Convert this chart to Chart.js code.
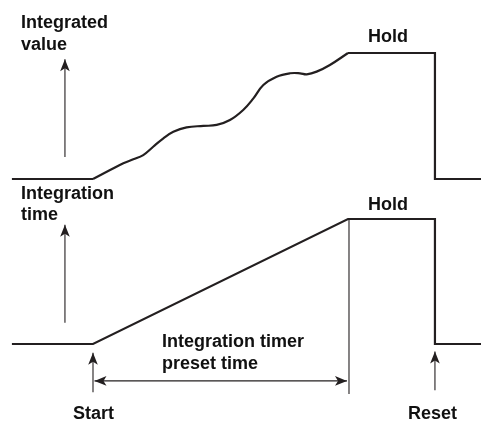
<!DOCTYPE html>
<html>
<head>
<meta charset="utf-8">
<script src="https://cdn.jsdelivr.net/npm/chart.js@4/dist/chart.umd.min.js"></script>
<style>
  html, body { margin: 0; padding: 0; background: #fff; }
  #wrap { width: 481px; height: 421px; }
</style>
</head>
<body>
<div id="wrap"><canvas id="c" width="481" height="421"></canvas></div>
<script>
// ---- Data (time units: Start = 0, end of preset time = 100) ----
const curveTime  = [0, 6.7, 11.9, 15.8, 19.7, 23.6, 27.6, 31.5, 36.7, 43.3, 48.5, 53.7, 58.9, 62.9, 66.8, 72.0, 77.3, 81.2, 83.8, 87.7, 92.9, 100];
const curveValue = [0, 7.1, 12.5, 15.6, 19.0, 25.6, 32.3, 37.5, 41.0, 42.1, 42.9, 46.8, 54.8, 64.0, 74.6, 81.2, 83.9, 83.9, 83.1, 85.2, 90.5, 100];
const idleTime   = [-31.8, 0];
const idleValue  = [0, 0];
const holdTime   = [100, 134.1, 134.1, 152.2];
const holdValue  = [100, 100, 0, 0];
const timerTime  = [-31.8, 0, 100, 134.1, 134.1, 152.2];
const timerValue = [0, 0, 100, 100, 0, 0];
const startTime = 0, presetEndTime = 100, resetTime = 134.1;
const labels = {
  valueAxis: ['Integrated', 'value'],
  timeAxis: ['Integration', 'time'],
  hold: 'Hold',
  preset: ['Integration timer', 'preset time'],
  start: 'Start',
  reset: 'Reset'
};

const pts = (xs, ys) => xs.map((x, i) => ({ x: x, y: ys[i] }));
const LINE = '#231f20';
const base = { showLine: true, borderColor: LINE, borderWidth: 2.2, pointRadius: 0, fill: false, tension: 0 };

function arrowHead(ctx, x, y, dx, dy) {
  const len = 12, half = 4.8;
  const L = Math.hypot(dx, dy), ux = dx / L, uy = dy / L;
  ctx.beginPath();
  ctx.moveTo(x, y);
  ctx.lineTo(x - ux * len - uy * half, y - uy * len + ux * half);
  ctx.lineTo(x - ux * len * 0.75, y - uy * len * 0.75);
  ctx.lineTo(x - ux * len + uy * half, y - uy * len - ux * half);
  ctx.closePath();
  ctx.fill();
}
function arrow(ctx, x1, y1, x2, y2, both) {
  ctx.beginPath();
  ctx.moveTo(x1, y1); ctx.lineTo(x2, y2); ctx.stroke();
  arrowHead(ctx, x2, y2, x2 - x1, y2 - y1);
  if (both) arrowHead(ctx, x1, y1, x1 - x2, y1 - y2);
}

const annot = {
  id: 'annot',
  afterDatasetsDraw(chart) {
    const ctx = chart.ctx;
    const X = chart.scales.x, YV = chart.scales.yv, YT = chart.scales.yt;
    ctx.save();
    ctx.strokeStyle = LINE; ctx.fillStyle = LINE; ctx.lineWidth = 1.1;
    // y axis arrows
    const ax = X.getPixelForValue(-11);
    arrow(ctx, ax, YV.getPixelForValue(17.5), ax, YV.getPixelForValue(95));
    arrow(ctx, ax, YT.getPixelForValue(17), ax, YT.getPixelForValue(95.5));
    // preset end vertical line
    const px = X.getPixelForValue(presetEndTime) + 1;
    ctx.beginPath(); ctx.moveTo(px, YT.getPixelForValue(100)); ctx.lineTo(px, YT.getPixelForValue(-40)); ctx.stroke();
    // preset time double arrow
    const ay = YT.getPixelForValue(-29.5);
    arrow(ctx, X.getPixelForValue(startTime) + 1.5, ay, px - 2, ay, true);
    // start / reset arrows
    const sx = X.getPixelForValue(startTime), rx = X.getPixelForValue(resetTime);
    arrow(ctx, sx, YT.getPixelForValue(-38.5), sx, YT.getPixelForValue(-7));
    arrow(ctx, rx, YT.getPixelForValue(-37), rx, YT.getPixelForValue(-6));
    // text
    ctx.fillStyle = '#111';
    ctx.font = 'bold 18px "Liberation Sans", Arial, sans-serif';
    ctx.textBaseline = 'alphabetic'; ctx.textAlign = 'left';
    ctx.fillText(labels.valueAxis[0], 21, 28);
    ctx.fillText(labels.valueAxis[1], 21, 50);
    ctx.fillText(labels.timeAxis[0], 21, 199);
    ctx.fillText(labels.timeAxis[1], 21, 220);
    ctx.fillText(labels.hold, 368, 42);
    ctx.fillText(labels.hold, 368, 210);
    ctx.fillText(labels.preset[0], 162, 347);
    ctx.fillText(labels.preset[1], 162, 369);
    ctx.fillText(labels.start, 73, 419);
    ctx.fillText(labels.reset, 408, 419);
    ctx.restore();
  }
};

new Chart(document.getElementById('c'), {
  type: 'scatter',
  data: {
    datasets: [
      Object.assign({}, base, { data: pts(idleTime, idleValue), yAxisID: 'yv' }),
      Object.assign({}, base, { data: pts(curveTime, curveValue), yAxisID: 'yv', tension: 0.4 }),
      Object.assign({}, base, { data: pts(holdTime, holdValue), yAxisID: 'yv' }),
      Object.assign({}, base, { data: pts(timerTime, timerValue), yAxisID: 'yt' })
    ]
  },
  options: {
    responsive: false,
    animation: false,
    devicePixelRatio: 1,
    layout: { padding: 0 },
    plugins: { legend: { display: false }, tooltip: { enabled: false } },
    scales: {
      x:  { type: 'linear', min: -36.47, max: 152.16, display: false },
      yv: { type: 'linear', min: -192.06, max: 142.06, display: false },
      yt: { type: 'linear', min: -61.6, max: 275.2, display: false }
    }
  },
  plugins: [annot]
});
</script>
</body>
</html>
